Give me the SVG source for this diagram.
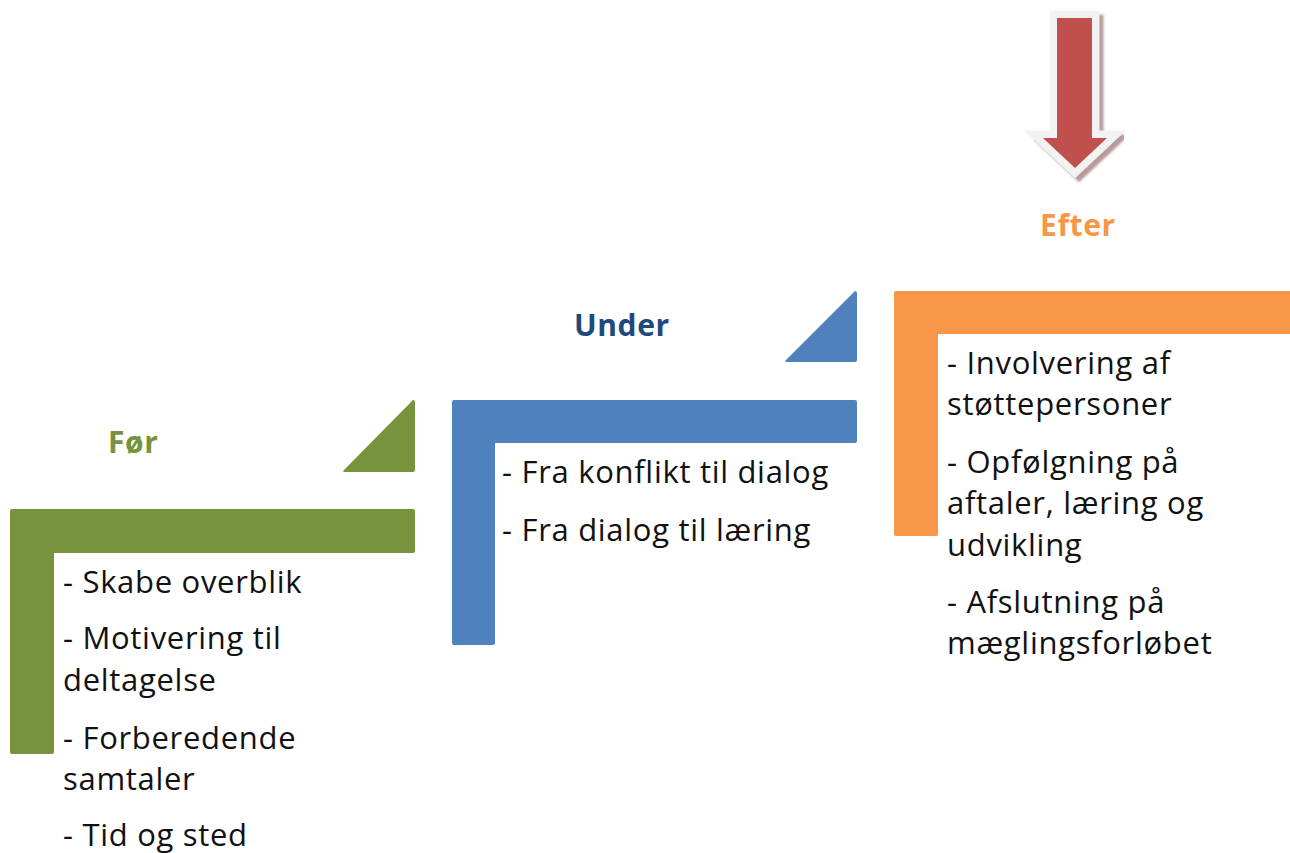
<svg xmlns="http://www.w3.org/2000/svg" width="1290" height="853" viewBox="0 0 1290 853">
  <defs>
    <style>
      .body { font-family: "Open Sans", "Noto Sans", "DejaVu Sans", sans-serif; font-size: 31px; letter-spacing: 0.7px; fill: #111111; }
      .head { font-family: "Open Sans", "Noto Sans", "DejaVu Sans", sans-serif; font-size: 30px; letter-spacing: 0.6px; font-weight: bold; }
      .green { fill: #77933C; }
      .blue { fill: #4F81BD; }
      .orange { fill: #F79646; }
    </style>
    <filter id="soft" x="-20%" y="-20%" width="140%" height="140%">
      <feGaussianBlur stdDeviation="1"/>
    </filter>
  </defs>
  <rect width="1290" height="853" fill="#FFFFFF"/>

  <!-- Step 1: Før -->
  <g id="step-for">
    <path class="green" d="M12,509 H413 Q415,509 415,511 V551 Q415,553 413,553 H54 V752 Q54,754 52,754 H12 Q10,754 10,752 V511 Q10,509 12,509 Z"/>
    <path class="green" d="M413,400 Q415,400 415,402 V470 Q415,472 413,472 H345 Q342,472 344,470 Z"/>
    <text class="head" x="108" y="453" fill="#77933C">Før</text>
    <text class="body" x="63" y="593">- Skabe overblik</text>
    <text class="body" x="63" y="649">- Motivering til</text>
    <text class="body" x="63" y="691">deltagelse</text>
    <text class="body" x="63" y="749">- Forberedende</text>
    <text class="body" x="63" y="790">samtaler</text>
    <text class="body" x="63" y="846">- Tid og sted</text>
  </g>

  <!-- Step 2: Under -->
  <g id="step-under">
    <path class="blue" d="M454,400 H855 Q857,400 857,402 V441 Q857,443 855,443 H495 V643 Q495,645 493,645 H454 Q452,645 452,643 V402 Q452,400 454,400 Z"/>
    <path class="blue" d="M855,291 Q857,291 857,293 V360 Q857,362 855,362 H787 Q784,362 786,360 Z"/>
    <text class="head" x="574" y="336" fill="#1F497D">Under</text>
    <text class="body" x="502" y="483">- Fra konflikt til dialog</text>
    <text class="body" x="502" y="541">- Fra dialog til læring</text>
  </g>

  <!-- Step 3: Efter -->
  <g id="step-efter">
    <path class="orange" d="M896,291 H1290 V334 H938 V534 Q938,536 936,536 H896 Q894,536 894,534 V293 Q894,291 896,291 Z"/>
    <text class="head" x="1040" y="236" fill="#F79646">Efter</text>
    <text class="body" x="947" y="374">- Involvering af</text>
    <text class="body" x="947" y="415">støttepersoner</text>
    <text class="body" x="947" y="473">- Opfølgning på</text>
    <text class="body" x="947" y="514">aftaler, læring og</text>
    <text class="body" x="947" y="556">udvikling</text>
    <text class="body" x="947" y="613">- Afslutning på</text>
    <text class="body" x="947" y="654">mæglingsforløbet</text>
  </g>

  <!-- Marker arrow pointing at the last step -->
  <g id="arrow-marker">
    <path d="M1057,18 H1092 V138 H1107 L1075,168 L1043,138 H1057 Z" transform="translate(4,4)" fill="#B99A9A" stroke="#B99A9A" stroke-width="15" stroke-linejoin="miter" filter="url(#soft)"/>
    <path d="M1057,18 H1092 V138 H1107 L1075,168 L1043,138 H1057 Z" fill="#F2F2F2" stroke="#F2F2F2" stroke-width="15" stroke-linejoin="miter"/>
    <path d="M1057,18 H1092 V138 H1107 L1075,168 L1043,138 H1057 Z" fill="#C0504D"/>
  </g>
</svg>
